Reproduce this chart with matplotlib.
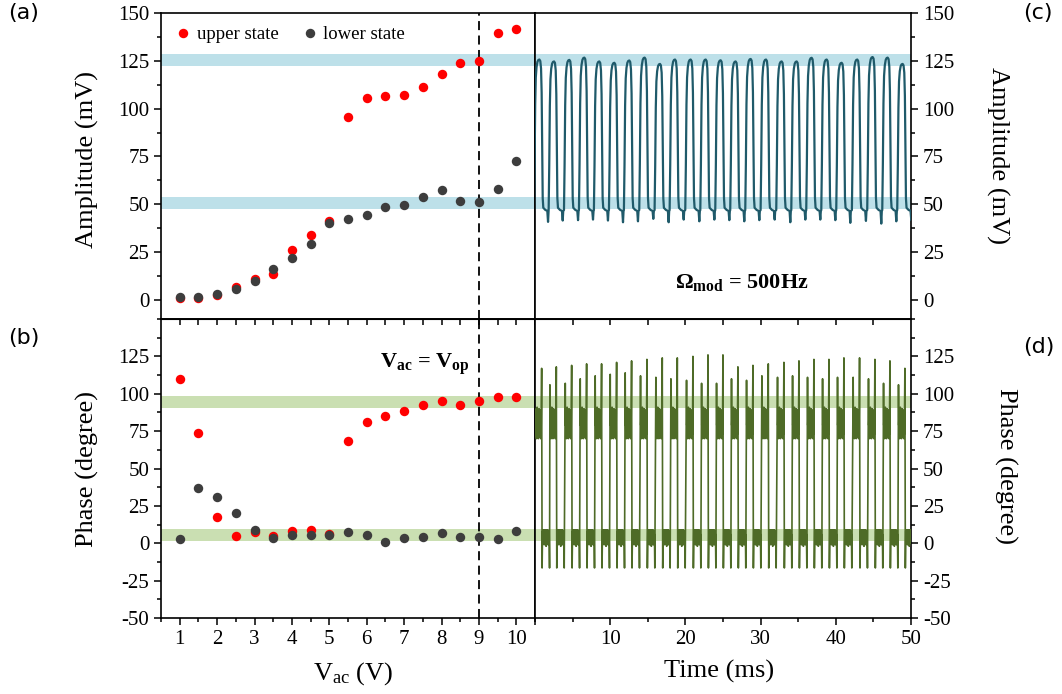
import numpy as np
import matplotlib
matplotlib.use('Agg')
import matplotlib.pyplot as plt
from matplotlib.ticker import MultipleLocator

plt.rcParams['font.family'] = ['Liberation Serif']
plt.rcParams['mathtext.fontset'] = 'custom'
plt.rcParams['mathtext.rm'] = 'Liberation Serif'
plt.rcParams['mathtext.it'] = 'Liberation Serif:italic'
plt.rcParams['mathtext.bf'] = 'Liberation Serif:bold'
plt.rcParams['axes.unicode_minus'] = False

# ---- (a)/(b): amplitude and phase vs V_ac ----
vac = [1, 1.5, 2, 2.5, 3, 3.5, 4, 4.5, 5, 5.5, 6, 6.5, 7, 7.5, 8, 8.5, 9, 9.5, 10]
amp_upper = [0.9, 0.9, 2.6, 7.0, 10.8, 13.5, 26.0, 34.0, 41.3, 95.8, 105.7, 106.4, 107.3,
             111.5, 117.9, 123.8, 125.0, 139.6, 141.5]
amp_lower = [1.4, 1.4, 3.1, 5.6, 10.0, 16.0, 22.0, 29.3, 40.0, 42.5, 44.3, 48.8, 49.8,
             54.0, 57.6, 51.9, 51.2, 58.2, 72.4]
ph_upper = [110.0, 73.6, 17.7, 5.1, 7.4, 5.1, 8.3, 9.2, 6.0, 68.2, 81.0, 85.0, 88.8,
            92.4, 94.9, 92.4, 95.3, 98.0, 97.8]
ph_lower = [2.7, 36.7, 31.1, 20.1, 8.9, 3.6, 5.4, 5.6, 5.8, 7.6, 5.8, 1.1, 3.8,
            4.5, 6.9, 4.5, 4.5, 3.1, 8.5]

# ---- (c)/(d): time traces, 25 modulation cycles ----
peak_t = [0.58, 2.53, 4.57, 6.56, 8.55, 10.55, 12.54, 14.58, 16.62, 18.62, 20.70, 22.70,
          24.69, 26.68, 28.68, 30.72, 32.80, 34.80, 36.79, 38.79, 40.78, 42.86, 44.90,
          46.90, 48.89]
amp_peak = [125.7, 124.7, 125.5, 126.7, 124.7, 124.0, 125.2, 126.7, 123.4, 125.7, 125.7,
            125.7, 125.3, 124.7, 126.0, 125.7, 124.7, 124.7, 126.6, 125.7, 124.0, 125.7,
            127.0, 126.7, 123.4]
amp_dip = [40.8, 41.5, 41.7, 42.0, 41.5, 40.6, 41.1, 42.4, 40.6, 42.0, 41.1, 42.0, 41.7,
           41.1, 41.7, 42.0, 40.6, 42.0, 42.0, 41.7, 40.3, 41.3, 39.9, 41.1, 41.7]
amp_low = 47.0
# one cycle of the amplitude trace, relative to its peak (ms, fraction of the swing)
amp_shape_dt = [-0.72, -0.64, -0.56, -0.48, -0.38, -0.26, -0.14, 0.00, 0.12, 0.22, 0.30,
                0.37, 0.44, 0.52, 0.80, 1.05, 1.15, 1.22]
amp_shape_frac = [0.0, 0.30, 0.70, 0.88, 0.95, 0.985, 0.997, 1.0, 0.99, 0.94, 0.78,
                  0.40, 0.08, 0.015, 0.0, -0.005, 0.0, -0.007]
dip_index = 16

ph_spike_rise = [88, 106, 107, 110, 112, 113, 114, 112, 111, 110, 109, 107, 107, 110, 109,
                 112, 111, 112, 111, 110, 111, 111, 110, 107, 106]
ph_spike_fall = [117, 118, 119, 120, 120, 121, 122, 123, 124, 124, 125, 126, 126, 118, 119,
                 120, 121, 122, 123, 123, 124, 124, 123, 122, 117]
ph_hi_noise = [86, 72, 90, 70, 88, 74, 91, 71, 85, 73, 89, 70, 87, 75, 90, 72, 86, 71, 84,
               76, 89, 70, 87, 73, 91]
ph_lo_noise = [8, 1, 9, 0, 7, 2, 9, -1, 8, 1, 6, 0, 9, 2, 8, -2, 7, 1, 9, 0, 6, 3, 9, -1,
               7, 2, 8, 0, 6]
ph_under = -16.5

amp_t, amp_v = [], []
for tp, P, D in zip(peak_t, amp_peak, amp_dip):
    for j, (dt, f) in enumerate(zip(amp_shape_dt, amp_shape_frac)):
        amp_t.append(tp + dt)
        amp_v.append(D if j == dip_index else amp_low + f * (P - amp_low))

hi_dt = np.linspace(-0.49, 0.26, len(ph_hi_noise))
lo_dt = np.linspace(0.42, 1.30, len(ph_lo_noise))
ph_t, ph_v = [], []
for i, tp in enumerate(peak_t):
    ph_t += [tp - 0.55, tp - 0.52] + list(tp + hi_dt) + [tp + 0.30, tp + 0.36, tp + 0.40] \
        + list(tp + lo_dt) + [tp + 1.35]
    ph_v += [ph_spike_rise[i], 79] + ph_hi_noise + [ph_spike_fall[i], ph_under, 5] \
        + ph_lo_noise + [ph_under]

blue_band = '#bde0e9'
green_band = '#cadfb2'

fig = plt.figure(figsize=(10.62, 6.94), dpi=100)
ax_a = fig.add_axes([0.1516, 0.5403, 0.3522, 0.4409])
ax_c = fig.add_axes([0.5038, 0.5403, 0.3540, 0.4409])
ax_b = fig.add_axes([0.1516, 0.1095, 0.3522, 0.4308])
ax_d = fig.add_axes([0.5038, 0.1095, 0.3540, 0.4308])

for ax in (ax_a, ax_b, ax_c, ax_d):
    for s in ax.spines.values():
        s.set_linewidth(1.2)
    ax.tick_params(which='both', direction='out', labelsize=15, width=1.1)
    ax.tick_params(which='major', length=5)
    ax.tick_params(which='minor', length=3)

# (a)
ax_a.axhspan(122.4, 128.5, color=blue_band, lw=0, zorder=0)
ax_a.axhspan(47.6, 53.9, color=blue_band, lw=0, zorder=0)
ax_a.plot(vac, amp_upper, 'o', color='#ff0000', ms=6.8, mec='none', label='upper state', zorder=3)
ax_a.plot(vac, amp_lower, 'o', color='#3d3d3d', ms=6.8, mec='none', label='lower state', zorder=4)
ax_a.axvline(9, color='black', lw=1.3, ls=(0, (5, 3)), zorder=2)
ax_a.set_xlim(0.5, 10.5)
ax_a.set_ylim(-10, 150)
ax_a.set_yticks(range(0, 151, 25))
ax_a.yaxis.set_minor_locator(MultipleLocator(12.5))
ax_a.tick_params(axis='x', which='both', bottom=False, labelbottom=False)
ax_a.set_ylabel('Amplitude (mV)', fontsize=19)
ax_a.yaxis.set_label_coords(-0.165, 0.52)
ax_a.legend(loc='upper left', ncol=2, frameon=False, fontsize=13.5, handletextpad=0.2,
            columnspacing=1.2, handlelength=1.0, borderaxespad=0.3)

# (b)
ax_b.axhspan(90.2, 98.7, color=green_band, lw=0, zorder=0)
ax_b.axhspan(1.7, 9.6, color=green_band, lw=0, zorder=0)
ax_b.plot(vac, ph_upper, 'o', color='#ff0000', ms=6.8, mec='none', zorder=3)
ax_b.plot(vac, ph_lower, 'o', color='#3d3d3d', ms=6.8, mec='none', zorder=4)
ax_b.axvline(9, color='black', lw=1.3, ls=(0, (5, 3)), zorder=2)
ax_b.set_xlim(0.5, 10.5)
ax_b.set_ylim(-50, 150)
ax_b.set_yticks(range(-50, 126, 25))
ax_b.yaxis.set_minor_locator(MultipleLocator(12.5))
ax_b.set_xticks(range(1, 11))
ax_b.xaxis.set_minor_locator(MultipleLocator(0.5))
ax_b.text(7.56, 120, r'$\mathbf{V_{ac}}$ = $\mathbf{V_{op}}$', ha='center', va='center',
          fontsize=16, fontweight='bold')
ax_b.set_ylabel('Phase (degree)', fontsize=19)
ax_b.yaxis.set_label_coords(-0.165, 0.5)
ax_b.set_xlabel(r'V$_{\rm ac}$ (V)', fontsize=19)
ax_b.xaxis.set_label_coords(0.513, -0.14)
top_b = ax_b.secondary_xaxis('top')
top_b.set_xticks(np.arange(1, 10.6, 0.5))
top_b.tick_params(direction='in', length=4, width=1.1, labeltop=False)

# (c)
ax_c.axhspan(122.4, 128.5, color=blue_band, lw=0, zorder=0)
ax_c.axhspan(47.6, 53.9, color=blue_band, lw=0, zorder=0)
ax_c.plot(amp_t, amp_v, color='#1f5a6a', lw=1.6, zorder=3)
ax_c.set_xlim(0, 50)
ax_c.set_ylim(-10, 150)
ax_c.yaxis.tick_right()
ax_c.set_yticks(range(0, 151, 25))
ax_c.yaxis.set_minor_locator(MultipleLocator(12.5))
ax_c.tick_params(axis='y', which='both', left=False, right=True)
ax_c.tick_params(axis='x', which='both', bottom=False, labelbottom=False)
ax_c.text(27.5, 9, r'$\mathbf{\Omega_{mod}}$ = 500Hz', ha='center', va='center',
          fontsize=16, fontweight='bold')
ax_c.yaxis.set_label_position('right')
ax_c.set_ylabel('Amplitude (mV)', fontsize=19, rotation=-90, va='bottom')
ax_c.yaxis.set_label_coords(1.20, 0.536)

# (d)
ax_d.axhspan(90.2, 98.7, color=green_band, lw=0, zorder=0)
ax_d.axhspan(1.7, 9.6, color=green_band, lw=0, zorder=0)
ax_d.plot(ph_t, ph_v, color='#4e6b27', lw=1.2, zorder=3)
ax_d.set_xlim(0, 50)
ax_d.set_ylim(-50, 150)
ax_d.yaxis.tick_right()
ax_d.set_yticks(range(-50, 126, 25))
ax_d.yaxis.set_minor_locator(MultipleLocator(12.5))
ax_d.tick_params(axis='y', which='both', left=False, right=True)
ax_d.set_xticks(range(0, 51, 10))
ax_d.set_xticklabels(['', '10', '20', '30', '40', '50'])
ax_d.xaxis.set_minor_locator(MultipleLocator(5))
ax_d.yaxis.set_label_position('right')
ax_d.set_ylabel('Phase (degree)', fontsize=19, rotation=-90, va='bottom')
ax_d.yaxis.set_label_coords(1.22, 0.51)
ax_d.set_xlabel('Time (ms)', fontsize=19)
ax_d.xaxis.set_label_coords(0.49, -0.14)
top_d = ax_d.secondary_xaxis('top')
top_d.set_xticks(range(5, 50, 5))
top_d.tick_params(direction='in', length=4, width=1.1, labeltop=False)

# panel letters
for lbl, x, y in [('(a)', 0.008, 0.995), ('(b)', 0.008, 0.528), ('(c)', 0.963, 0.995), ('(d)', 0.963, 0.515)]:
    fig.text(x, y, lbl, fontsize=16, family='DejaVu Sans', va='top', ha='left')

fig.savefig('out.png', dpi=100)
